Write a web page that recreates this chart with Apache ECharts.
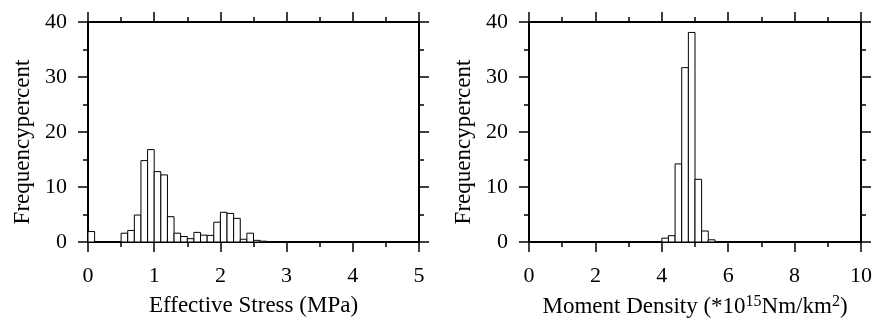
<!DOCTYPE html>
<html>
<head>
<meta charset="utf-8">
<script src="https://cdn.jsdelivr.net/npm/echarts@6/dist/echarts.min.js"></script>
<style>
  html, body { margin: 0; padding: 0; background: #fff; }
  #chart { width: 874px; height: 320px; }
</style>
</head>
<body>
<div id="chart"></div>
<script>
// Effective stress histogram: left bin edges (MPa) and frequency (%)
const stressBinLeft = [0.0, 0.5, 0.6, 0.7, 0.8, 0.9, 1.0, 1.1, 1.2, 1.3, 1.4, 1.5, 1.6, 1.7, 1.8, 1.9, 2.0, 2.1, 2.2, 2.3, 2.4, 2.5, 2.6];
const stressFreq    = [1.9, 1.6, 2.1, 4.9, 14.8, 16.8, 12.8, 12.2, 4.6, 1.6, 1.0, 0.6, 1.75, 1.25, 1.2, 3.6, 5.4, 5.2, 4.3, 0.5, 1.6, 0.3, 0.15];
const stressBinWidth = 0.1;

// Moment density histogram: left bin edges (*10^15 Nm/km^2) and frequency (%)
const momentBinLeft = [4.0, 4.2, 4.4, 4.6, 4.8, 5.0, 5.2, 5.4];
const momentFreq    = [0.7, 1.15, 14.2, 31.7, 38.1, 11.4, 2.0, 0.4];
const momentBinWidth = 0.2;

const yTicks = [0, 10, 20, 30, 40];

const FONT = 'Liberation Serif';
const chart = echarts.init(document.getElementById('chart'), null, { renderer: 'canvas' });

function histData(lefts, vals, w) {
  return lefts.map((l, i) => [l, l + w, vals[i]]);
}

function renderBar(params, api) {
  const p0 = api.coord([api.value(0), 0]);
  const p1 = api.coord([api.value(1), api.value(2)]);
  return {
    type: 'rect',
    shape: { x: p0[0], y: p1[1], width: p1[0] - p0[0], height: p0[1] - p1[1] },
    style: { fill: '#fff', stroke: '#000', lineWidth: 1 }
  };
}

const lineStyle = { color: '#000', width: 2 };
const tickBase = { show: true, inside: false, length: 10, lineStyle: { color: '#000', width: 1.5 } };
const minorBase = { show: true, splitNumber: 2, length: 5, lineStyle: { color: '#000', width: 1.5 } };
const labelBase = { color: '#000', fontFamily: FONT, fontSize: 22 };
const nameBase = { color: '#000', fontFamily: FONT, fontSize: 23 };

function xAxes(gridIndex, max, interval, name, rich) {
  return [
    {
      type: 'value', gridIndex, position: 'bottom', min: 0, max, interval,
      axisLine: { show: true, onZero: false, lineStyle },
      axisTick: tickBase, minorTick: minorBase,
      splitLine: { show: false },
      axisLabel: Object.assign({ margin: 23 }, labelBase),
      name, nameLocation: 'middle', nameGap: 52,
      nameTextStyle: Object.assign({ rich: rich || {} }, nameBase)
    },
    {
      type: 'value', gridIndex, position: 'top', min: 0, max, interval,
      axisLine: { show: true, onZero: false, lineStyle },
      axisTick: tickBase, minorTick: minorBase,
      splitLine: { show: false },
      axisLabel: { show: false }
    }
  ];
}

function yAxes(gridIndex) {
  return [
    {
      type: 'value', gridIndex, position: 'left', min: yTicks[0], max: yTicks[yTicks.length - 1], interval: 10,
      axisLine: { show: true, onZero: false, lineStyle },
      axisTick: tickBase, minorTick: minorBase,
      splitLine: { show: false },
      axisLabel: Object.assign({ margin: 21 }, labelBase),
      name: 'Frequencypercent', nameLocation: 'middle', nameGap: 54,
      nameTextStyle: Object.assign({ padding: [0, 20, 0, 0] }, nameBase)
    },
    {
      type: 'value', gridIndex, position: 'right', min: yTicks[0], max: yTicks[yTicks.length - 1], interval: 10,
      axisLine: { show: true, onZero: false, lineStyle },
      axisTick: tickBase, minorTick: minorBase,
      splitLine: { show: false },
      axisLabel: { show: false }
    }
  ];
}

const supStyle = { fontFamily: FONT, fontSize: 16, color: '#000', verticalAlign: 'top', padding: [0, 0, 9, 0] };

chart.setOption({
  animation: false,
  backgroundColor: '#fff',
  grid: [
    { left: 88, top: 22, width: 331, height: 220, containLabel: false, outerBoundsMode: 'none' },
    { left: 529, top: 22, width: 332, height: 220, containLabel: false, outerBoundsMode: 'none' }
  ],
  xAxis: [
    ...xAxes(0, 5, 1, 'Effective Stress (MPa)'),
    ...xAxes(1, 10, 2, 'Moment Density (*10{sup|15}Nm/km{sup|2})', { sup: supStyle })
  ],
  yAxis: [...yAxes(0), ...yAxes(1)],
  series: [
    {
      type: 'custom', xAxisIndex: 0, yAxisIndex: 0,
      renderItem: renderBar,
      encode: { x: [0, 1], y: 2 },
      data: histData(stressBinLeft, stressFreq, stressBinWidth)
    },
    {
      type: 'custom', xAxisIndex: 2, yAxisIndex: 2,
      renderItem: renderBar,
      encode: { x: [0, 1], y: 2 },
      data: histData(momentBinLeft, momentFreq, momentBinWidth)
    }
  ]
});
</script>
</body>
</html>
